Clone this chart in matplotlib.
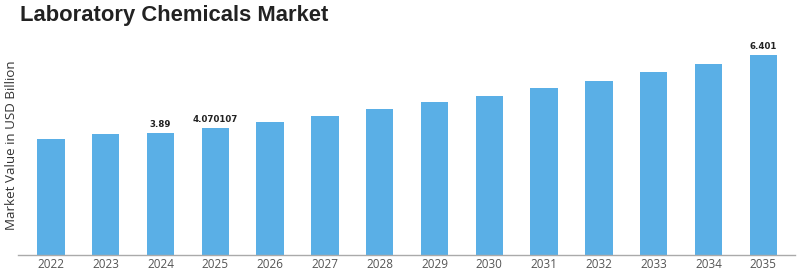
import matplotlib
matplotlib.use("Agg")
import matplotlib.pyplot as plt

years = ["2022", "2023", "2024", "2025", "2026", "2027", "2028",
         "2029", "2030", "2031", "2032", "2033", "2034", "2035"]
values = [3.70, 3.86, 3.89, 4.070107, 4.27, 4.46, 4.66,
          4.88, 5.10, 5.35, 5.58, 5.85, 6.12, 6.401]
labels = {"2024": "3.89", "2025": "4.070107", "2035": "6.401"}

plt.rcParams['font.family'] = ['Open Sans', 'DejaVu Sans']

fig = plt.figure(figsize=(8, 2.75), dpi=100)
ax = fig.add_axes([0.0225, 20/275, 0.9713, 220/275])
x = list(range(len(years)))
ax.bar(x, values, width=0.5, color='#5AAFE6')
ax.set_xlim(-0.6, len(years) - 1 + 0.58)
ax.set_ylim(0, 7.04)
ax.set_xticks(x)
ax.set_xticklabels(years, fontsize=8.5, color='#555555')
ax.tick_params(axis='x', length=0, pad=2)
ax.set_yticks([])
for s in ['top', 'right', 'left']:
    ax.spines[s].set_visible(False)
ax.spines['bottom'].set_color('#aaaaaa')
ax.spines['bottom'].set_linewidth(1.0)
ax.set_ylabel("Market Value in USD Billion", fontsize=9.6, color='#333333', labelpad=0)

for i, (yr, v) in enumerate(zip(years, values)):
    if yr in labels:
        ax.annotate(labels[yr], (i, v), xytext=(0, 3), textcoords='offset points',
                    ha='center', va='bottom', fontsize=6.2, fontweight='bold', color='#222222',
                    family=['DejaVu Sans'])

fig.text(20/800, 1 - 15/275, "Laboratory Chemicals Market", fontsize=15.8,
         fontweight='bold', color='#222222', ha='left', va='center',
         family=['Liberation Sans', 'DejaVu Sans'])

fig.savefig("out.png", dpi=100)
